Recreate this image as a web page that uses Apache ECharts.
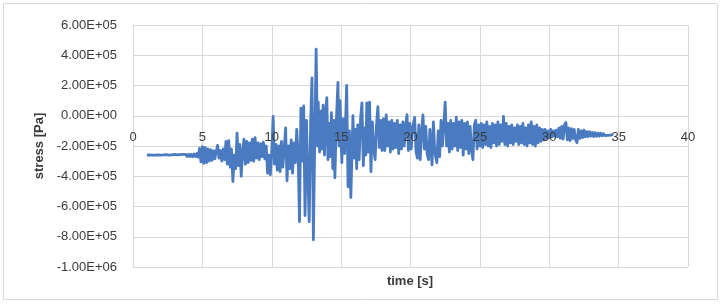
<!DOCTYPE html>
<html>
<head>
<meta charset="utf-8">
<script src="https://cdn.jsdelivr.net/npm/echarts@6/dist/echarts.min.js"></script>
<style>
html,body{margin:0;padding:0;background:#fff;}
#chart{width:727px;height:304px;}
</style>
</head>
<body>
<div id="chart"></div>
<script>
// time [s]
const timeS = [
1.0,1.1,1.2,1.3,1.4,1.5,1.6,1.7,1.8,1.9,2.0,2.1,2.2,2.3,2.4,2.5,2.6,2.7,2.8,2.9,
3.0,3.1,3.2,3.3,3.4,3.5,3.6,3.7,3.8,3.9,4.0,4.1,4.2,4.3,4.4,4.5,4.6,4.7,
4.8,4.9,5.0,5.1,5.2,5.3,5.4,5.5,5.6,5.7,5.8,5.9,6.0,6.1,6.2,6.3,6.4,6.5,6.6,6.7,6.8,6.9,
7.0,7.1,7.2,7.3,7.4,7.5,7.6,7.7,7.8,7.9,8.0,8.1,8.2,8.3,8.4,8.5,8.6,8.7,8.8,8.9,
9.0,9.1,9.2,9.3,9.4,9.5,9.6,9.7,9.8,9.9,10.0,10.1,10.2,10.3,10.4,10.5,10.6,10.7,10.8,10.9,
11.0,11.1,11.2,11.3,11.4,11.5,11.6,11.7,11.8,11.9,12.0,12.1,12.2,12.3,12.4,12.5,12.6,12.7,12.8,12.9,
13.0,13.1,13.2,13.3,13.35,13.45,13.55,13.62,13.7,13.8,13.9,13.97,14.05,14.15,14.22,14.3,14.4,14.47,14.55,14.65,
14.77,14.85,14.92,15.05,15.15,15.25,15.4,15.5,15.6,15.7,15.85,15.95,16.05,16.12,16.2,16.3,16.4,16.5,16.6,16.7,
16.78,16.85,16.95,17.05,17.15,17.25,17.35,17.45,17.55,17.65,17.75,17.85,17.95,18.05,18.15,18.25,18.35,18.45,18.55,18.65,
18.75,18.85,18.95,19.05,19.15,19.25,19.35,19.45,19.55,19.65,19.75,19.85,19.95,20.05,20.15,20.3,20.4,20.5,20.6,20.7,
20.8,20.9,21.0,21.1,21.2,21.3,21.4,21.55,21.65,21.75,21.9,22.0,22.1,22.2,22.3,22.4,22.5,22.6,22.7,22.8,
22.9,23.0,23.1,23.2,23.3,23.4,23.5,23.6,23.7,23.8,23.9,24.0,24.1,24.2,24.3,24.4,24.5,24.6,24.7,24.8,
24.9,25.0,25.1,25.2,25.3,25.4,25.5,25.6,25.7,25.8,25.9,26.0,26.1,26.2,26.3,26.4,26.5,26.6,26.7,26.8,
26.9,27.0,27.1,27.2,27.3,27.4,27.5,27.6,27.7,27.8,27.9,28.0,28.1,28.2,28.3,28.4,28.5,28.6,28.7,28.8,
28.9,29.0,29.1,29.2,29.3,29.4,29.5,29.6,29.7,29.8,29.9,30.0,30.1,30.2,30.3,30.4,30.5,30.6,30.7,30.8,
30.9,31.0,31.1,31.2,31.3,31.4,31.5,31.6,31.7,31.8,31.9,32.0,32.1,32.2,32.3,32.4,32.5,32.6,32.7,32.8,
32.9,33.0,33.1,33.2,33.3,33.4,33.5,33.6,33.7,33.8,33.9,34.0,34.1,34.2,34.3,34.4,34.5,34.6
];
// stress [Pa]
const stressPa = [
-2.60e5,-2.64e5,-2.59e5,-2.65e5,-2.60e5,-2.66e5,-2.61e5,-2.64e5,-2.58e5,-2.65e5,-2.60e5,-2.67e5,-2.59e5,-2.64e5,-2.57e5,-2.66e5,-2.60e5,-2.68e5,-2.58e5,-2.65e5,
-2.56e5,-2.67e5,-2.59e5,-2.70e5,-2.57e5,-2.66e5,-2.55e5,-2.68e5,-2.56e5,-2.70e5,-2.54e5,-2.69e5,-2.55e5,-2.71e5,-2.53e5,-2.70e5,-2.50e5,-2.74e5,
-2.15e5,-3.05e5,-2.05e5,-3.15e5,-2.10e5,-3.10e5,-2.20e5,-3.00e5,-2.25e5,-2.95e5,-2.30e5,-2.85e5,-2.35e5,-1.95e5,-2.80e5,-2.30e5,-3.00e5,-2.20e5,-2.90e5,-1.70e5,-3.20e5,-1.65e5,
-3.40e5,-2.20e5,-4.35e5,-2.60e5,-3.50e5,-1.15e5,-3.30e5,-1.90e5,-4.00e5,-2.40e5,-1.55e5,-3.20e5,-1.70e5,-3.10e5,-1.80e5,-2.95e5,-1.55e5,-3.00e5,-1.45e5,-2.80e5,
-1.80e5,-2.90e5,-1.85e5,-2.70e5,-1.75e5,-2.85e5,-2.00e5,-3.80e5,-2.60e5,-3.90e5,-2.40e5,-0.05e5,-3.20e5,-1.90e5,-3.60e5,-2.00e5,-3.70e5,-1.70e5,-3.40e5,-2.10e5,
-0.80e5,-4.30e5,-2.00e5,-3.50e5,-1.60e5,-3.80e5,-1.80e5,-3.10e5,-0.90e5,-2.50e5,-7.00e5,0.50e5,-3.00e5,0.65e5,-6.60e5,-0.30e5,-4.00e5,-7.00e5,-0.50e5,2.50e5,
-8.20e5,-1.50e5,4.40e5,-2.00e5,0.90e5,-2.40e5,0.30e5,-2.20e5,0.70e5,-2.60e5,0.40e5,1.20e5,-2.90e5,-0.50e5,-2.70e5,0.20e5,-3.50e5,-0.30e5,-4.10e5,-0.50e5,
2.20e5,-2.00e5,1.00e5,-3.10e5,-0.20e5,-2.50e5,2.00e5,-4.70e5,-1.00e5,-5.40e5,0.00e5,-2.80e5,-0.90e5,-3.50e5,-0.60e5,-2.90e5,-0.20e5,0.85e5,-3.30e5,-0.80e5,
-2.60e5,0.85e5,-2.40e5,0.90e5,-3.70e5,-0.40e5,-2.20e5,-2.90e5,-0.60e5,0.60e5,-2.10e5,-0.30e5,-2.30e5,-0.20e5,-2.30e5,0.05e5,-2.00e5,-0.40e5,-2.40e5,-0.30e5,
-2.20e5,-0.50e5,-2.10e5,-0.30e5,-2.50e5,-0.60e5,-2.20e5,-0.40e5,-2.00e5,-0.60e5,0.07e5,-2.30e5,-0.50e5,-2.20e5,-0.80e5,-0.10e5,-2.40e5,-2.80e5,-0.60e5,-2.90e5,
-1.00e5,0.05e5,-2.20e5,-0.70e5,-2.50e5,-2.90e5,-0.90e5,-3.25e5,-0.40e5,-2.40e5,-3.10e5,-1.00e5,-2.70e5,-0.30e5,-2.00e5,-0.60e5,0.90e5,-2.00e5,-0.50e5,-2.40e5,
-0.30e5,-2.20e5,-0.50e5,-2.00e5,-0.10e5,-2.30e5,-0.40e5,-2.10e5,-0.30e5,-2.60e5,-0.50e5,-2.20e5,-0.40e5,-2.50e5,-0.70e5,-2.30e5,-2.90e5,-0.60e5,-0.30e5,-2.20e5,
-0.60e5,-2.00e5,-0.50e5,-2.10e5,-0.60e5,-1.90e5,-0.40e5,-2.00e5,-0.70e5,-2.10e5,-0.50e5,-1.80e5,-0.60e5,-2.00e5,-0.40e5,-1.90e5,-0.60e5,-1.70e5,-0.05e5,-1.90e5,
-0.50e5,-2.00e5,-0.70e5,-1.80e5,-0.60e5,-1.90e5,-0.80e5,-1.70e5,-0.60e5,-1.90e5,-0.70e5,-1.80e5,-0.50e5,-1.90e5,-0.80e5,-2.00e5,-0.60e5,-1.80e5,-0.40e5,-1.90e5,
-0.70e5,-2.00e5,-0.60e5,-1.80e5,-0.80e5,-1.70e5,-0.90e5,-1.60e5,-0.90e5,-1.50e5,-1.00e5,-1.45e5,-0.90e5,-1.40e5,-1.00e5,-1.35e5,-0.95e5,-1.40e5,-0.80e5,-1.50e5,
-0.70e5,-1.55e5,-0.60e5,-0.45e5,-1.60e5,-0.80e5,-1.65e5,-0.85e5,-1.50e5,-0.90e5,-1.60e5,-1.78e5,-0.90e5,-1.50e5,-1.00e5,-1.45e5,-0.95e5,-1.40e5,-1.05e5,-1.38e5,
-1.05e5,-1.35e5,-1.10e5,-1.38e5,-1.12e5,-1.36e5,-1.15e5,-1.35e5,-1.15e5,-1.33e5,-1.18e5,-1.32e5,-1.20e5,-1.30e5,-1.22e5,-1.28e5,-1.24e5,-1.26e5
];
// axis ticks
const xTicks = { min: 0, max: 40, step: 5 };
const yTicks = { min: -1000000, max: 600000, step: 200000 };
const xTitle = 'time [s]';
const yTitle = 'stress [Pa]';

function sci(v) {
  v = Math.round(v);
  if (v === 0) return '0.00E+00';
  const e = Math.floor(Math.log10(Math.abs(v)) + 1e-9);
  const m = v / Math.pow(10, e);
  return m.toFixed(2) + 'E' + (e < 0 ? '-' : '+') + String(Math.abs(e)).padStart(2, '0');
}

const gridBox = { left: 133, right: 39, top: 25, bottom: 37 };
const plotH = 304 - gridBox.top - gridBox.bottom;
// place the horizontal axis where y = 0 (Excel "axis crosses at 0")
const zeroOffset = -(0 - yTicks.min) / (yTicks.max - yTicks.min) * plotH;

const seriesData = timeS.map((t, i) => [t, stressPa[i]]);
const font = 'Liberation Sans';
const txt = '#3a3a3a';
const grid = '#d9d9d9';
const chart = echarts.init(document.getElementById('chart'), null, { renderer: 'canvas' });
chart.setOption({
  animation: false,
  backgroundColor: '#fff',
  grid: Object.assign({ containLabel: false }, gridBox),
  xAxis: [{
    type: 'value', min: xTicks.min, max: xTicks.max, interval: xTicks.step,
    position: 'bottom', offset: zeroOffset,
    axisLine: { show: true, onZero: false, lineStyle: { color: grid, width: 1 } },
    axisTick: { show: false },
    axisLabel: { show: false },
    splitLine: { show: true, lineStyle: { color: grid, width: 1 } }
  }, {
    // label-only copy of the time axis, drawn above the trace like in the original
    type: 'value', min: xTicks.min, max: xTicks.max, interval: xTicks.step,
    position: 'bottom', offset: zeroOffset, z: 10,
    axisLine: { show: false, onZero: false },
    axisTick: { show: false },
    axisLabel: { color: txt, fontFamily: font, fontSize: 13, margin: 15 },
    splitLine: { show: false }
  }],
  yAxis: {
    type: 'value', min: yTicks.min, max: yTicks.max, interval: yTicks.step,
    axisLine: { show: true, onZero: false, lineStyle: { color: grid, width: 1 } },
    axisTick: { show: false },
    axisLabel: { color: txt, fontFamily: font, fontSize: 13, margin: 16, formatter: sci },
    splitLine: { show: true, lineStyle: { color: grid, width: 1 } }
  },
  series: [{
    type: 'line', data: seriesData, xAxisIndex: 0, showSymbol: false, symbol: 'none',
    lineStyle: { color: '#4a7bc0', width: 2.8, join: 'round' },
    z: 5
  }],
  graphic: [
    { type: 'rect', shape: { x: 3.5, y: 3.5, width: 714, height: 296 }, style: { fill: 'none', stroke: grid, lineWidth: 1 }, silent: true, z: -1 },
    { type: 'text', x: 410, y: 281, style: { text: xTitle, fill: txt, font: 'bold 13px "Liberation Sans"', textAlign: 'center', textVerticalAlign: 'middle' } },
    { type: 'text', x: 39, y: 146, rotation: Math.PI / 2, style: { text: yTitle, fill: txt, font: 'bold 13px "Liberation Sans"', textAlign: 'center', textVerticalAlign: 'middle' } }
  ]
});
</script>
</body>
</html>
